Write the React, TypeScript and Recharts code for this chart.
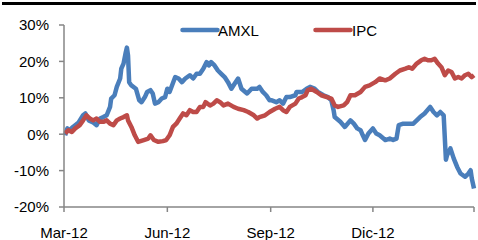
import React from "react";
import { LineChart, Line, XAxis, YAxis } from "recharts";

// days since 1 Mar 2012
const amxlDays = [1,3,5,8,13,17,19,22,26,29,32,35,38,41,42,45,47,50,51,53,55,56,57,58,60,64,67,69,72,74,77,79,81,84,87,90,92,94,99,102,105,108,112,115,118,121,124,127,129,131,134,137,140,143,146,149,152,155,158,163,167,172,174,177,180,183,185,189,192,195,198,201,206,207,212,216,219,223,226,231,235,238,240,241,246,250,255,258,261,264,266,268,271,275,278,281,286,290,293,296,298,302,307,311,314,317,321,326,329,332,335,338,340,341,344,347,350,353,357,360,362,363,365];
const amxlValues = [-0.3,1.6,1.1,2.0,3.2,5.2,5.7,3.8,3.2,2.5,4.3,4.7,5.2,7.5,9.8,10.7,13.0,15.3,18.0,19.4,22.5,23.8,21.6,14.3,13.4,12.5,9.3,8.8,10.2,11.6,12.1,11.2,8.4,8.8,9.8,10.2,12.5,11.6,15.7,15.3,14.3,15.3,16.2,15.3,16.6,16.6,18.0,19.8,18.9,19.8,18.9,17.5,16.6,15.7,14.3,12.5,13.9,15.3,12.5,11.2,12.5,12.5,13.0,11.6,10.7,9.3,9.3,8.8,9.3,8.4,10.2,10.2,10.7,11.6,11.6,12.5,13.0,12.5,11.6,10.7,10.2,9.3,6.6,4.7,3.4,2.0,3.8,2.9,1.6,1.1,-0.3,-1.6,0.2,1.6,0.2,-0.3,-1.6,-1.2,-1.6,-1.2,2.5,2.9,2.9,2.9,3.8,4.7,5.7,7.5,6.1,5.2,6.1,5.2,-7.0,-5.8,-3.9,-6.7,-9.0,-10.8,-11.7,-10.8,-9.9,-12.1,-14.9];

const ipcDays = [1,4,7,10,14,17,20,23,26,29,32,35,38,41,44,47,50,53,56,57,60,63,66,71,75,77,80,84,88,91,94,97,100,103,106,109,112,115,118,121,124,126,130,133,136,139,142,146,151,155,160,164,169,172,174,179,183,188,192,195,198,201,206,209,212,215,217,220,225,229,234,238,241,244,249,252,255,259,264,268,272,277,281,286,290,295,299,304,307,310,314,318,321,324,327,330,333,336,339,342,345,348,351,354,357,360,363,365];
const ipcValues = [0.2,1.1,0.6,1.6,2.5,3.8,5.2,4.3,3.8,4.3,3.4,3.4,3.8,2.9,2.5,3.8,4.3,4.7,5.2,3.8,2.0,-0.3,-2.1,-1.6,-1.2,-0.3,-1.6,-2.1,-1.9,-1.6,-0.3,2.0,2.9,4.3,5.7,5.2,6.6,6.1,6.1,7.5,7.5,8.8,7.9,8.4,9.3,8.8,7.9,8.4,7.5,7.0,6.6,6.1,5.2,4.3,4.7,5.2,6.1,7.0,7.5,6.6,6.1,7.5,8.4,9.8,10.2,10.7,12.1,12.5,11.6,10.7,10.2,9.8,7.9,7.5,7.9,8.8,10.7,10.7,11.6,13.0,13.4,14.3,15.3,14.8,15.3,16.6,17.5,18.0,18.4,18.0,19.4,20.3,20.7,20.3,20.3,20.7,19.4,18.4,16.2,17.5,17.1,15.3,15.7,15.3,16.2,16.6,15.7,16.2];

const tickDays = [0, 92, 184, 275, 365];
const tickLabels = ["Mar-12", "Jun-12", "Sep-12", "Dic-12", ""];
const yTicks = [-20, -10, 0, 10, 20, 30];

const amxlData = amxlDays.map((d, i) => ({ d, v: amxlValues[i] }));
const ipcData = ipcDays.map((d, i) => ({ d, v: ipcValues[i] }));

const BLUE = "#4A7EBB";
const RED = "#BE4B48";
const FONT = "'Liberation Sans', Arial, sans-serif";

const LegendOverlay = () => (
  <div style={{ position: "absolute", left: 0, top: 22, width: 478, height: 20, fontFamily: FONT, fontSize: 15, color: "#000" }}>
    <svg width={40} height={10} style={{ position: "absolute", left: 180, top: 3 }}>
      <line x1={2.5} y1={5} x2={37.5} y2={5} stroke={BLUE} strokeWidth={4.5} strokeLinecap="round" />
    </svg>
    <span style={{ position: "absolute", left: 218, top: 0, lineHeight: "18px" }}>AMXL</span>
    <svg width={40} height={10} style={{ position: "absolute", left: 313, top: 3 }}>
      <line x1={2.5} y1={5} x2={37.5} y2={5} stroke={RED} strokeWidth={4.5} strokeLinecap="round" />
    </svg>
    <span style={{ position: "absolute", left: 352, top: 0, lineHeight: "18px" }}>IPC</span>
  </div>
);

export default function App() {
  return (
    <div style={{ position: "fixed", left: 0, top: 0, width: 478, height: 240, background: "#fff" }}>
      <LineChart width={478} height={240} data={amxlData} margin={{ top: 25, right: 4, bottom: 3, left: 0 }}>
        <XAxis
          type="number"
          dataKey="d"
          domain={[0, 365]}
          ticks={tickDays}
          tickFormatter={(v) => tickLabels[tickDays.indexOf(v)] ?? ""}
          height={30}
          tickSize={5}
          tickMargin={15}
          stroke="#868686"
          strokeWidth={1.5}
          tick={{ fill: "#000", fontSize: 15, fontFamily: FONT }}
          interval={0}
        />
        <YAxis
          type="number"
          domain={[-20, 30]}
          ticks={yTicks}
          tickFormatter={(v) => `${v}%`}
          width={64}
          tickSize={5}
          tickMargin={10}
          stroke="#868686"
          strokeWidth={1.5}
          tick={{ fill: "#000", fontSize: 15, fontFamily: FONT }}
          interval={0}
        />
        <Line data={amxlData} dataKey="v" name="AMXL" stroke={BLUE} strokeWidth={4.5} dot={false} isAnimationActive={false} strokeLinejoin="round" />
        <Line data={ipcData} dataKey="v" name="IPC" stroke={RED} strokeWidth={4.5} dot={false} isAnimationActive={false} strokeLinejoin="round" />
      </LineChart>
      <LegendOverlay />
      <div style={{ position: "absolute", left: 2, top: 2, width: 474, height: 3, background: "#000" }} />
    </div>
  );
}
